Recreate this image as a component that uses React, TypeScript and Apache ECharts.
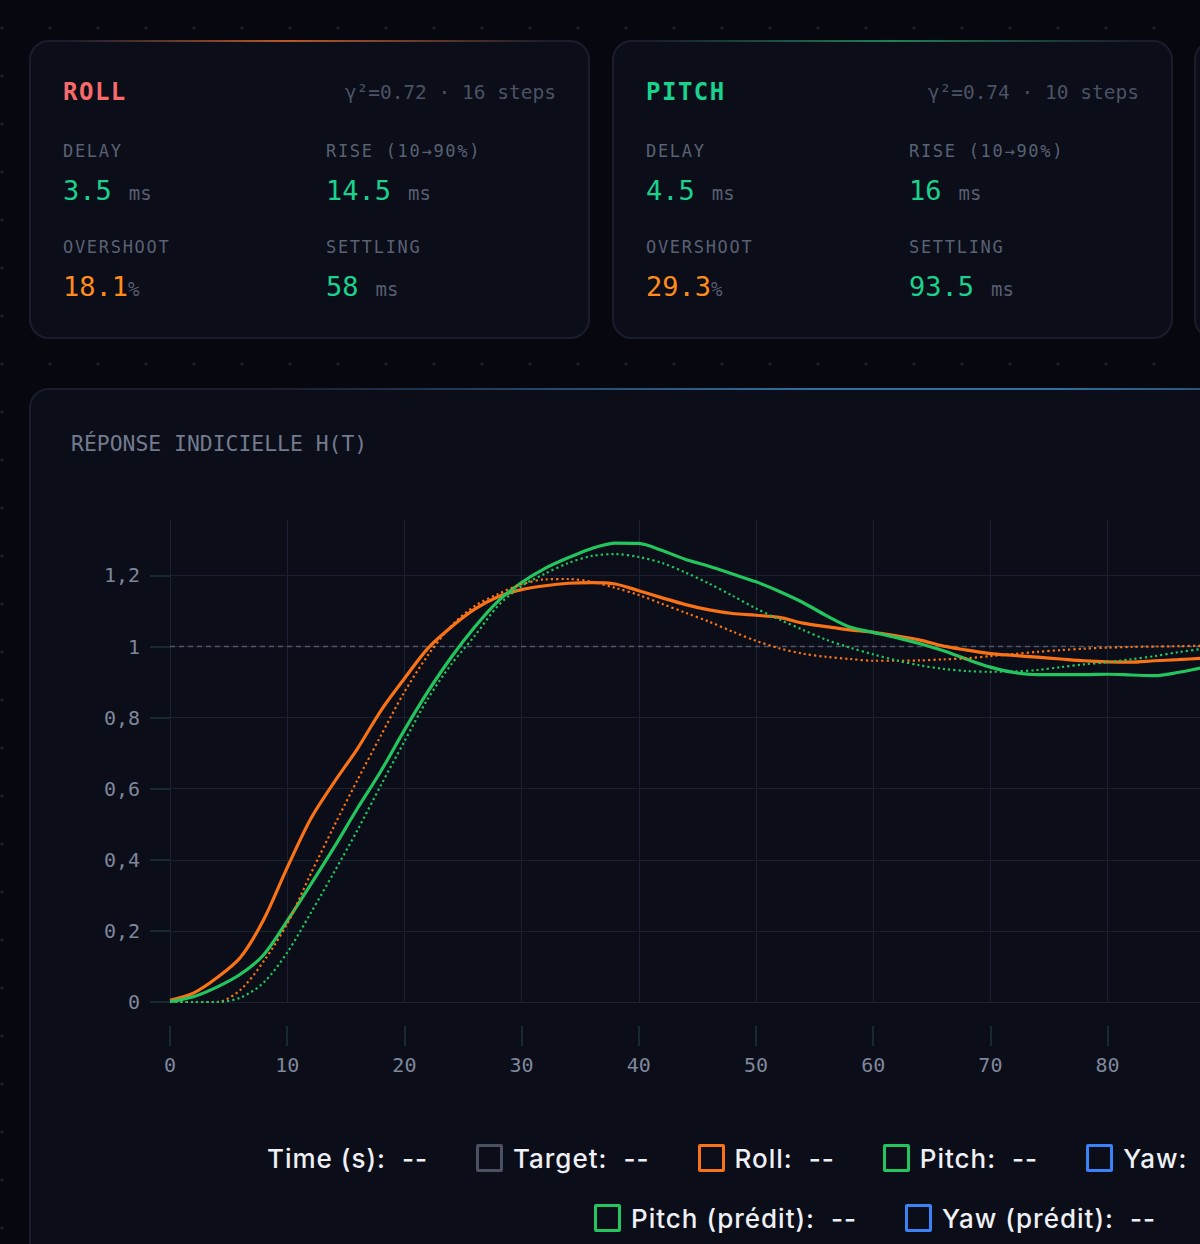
import React, { useEffect, useRef } from "react";
import * as echarts from "echarts";

// ---------- data ----------
const TIME = [
  0, 2, 4, 6, 8, 10, 12, 14, 16, 18, 20, 22, 24, 26, 28, 30, 32, 34, 36, 38, 40, 42, 44, 46, 48, 50,
  52, 54, 56, 58, 60, 62, 64, 66, 68, 70, 72, 74, 76, 78, 80, 82, 84, 86, 88, 90, 92, 94, 96, 98, 100,
];
const ROLL = [
  0.005, 0.025, 0.068, 0.125, 0.232, 0.378, 0.515, 0.618, 0.713, 0.82, 0.91, 0.995, 1.055, 1.105, 1.14,
  1.16, 1.171, 1.178, 1.18, 1.176, 1.157, 1.137, 1.118, 1.103, 1.093, 1.088, 1.082, 1.066, 1.056, 1.047,
  1.04, 1.03, 1.018, 1.001, 0.99, 0.98, 0.975, 0.97, 0.965, 0.96, 0.957, 0.956, 0.96, 0.963, 0.967,
  0.97, 0.973, 0.977, 0.98, 0.982, 0.985,
];
const PITCH = [
  0.001, 0.015, 0.042, 0.078, 0.133, 0.228, 0.33, 0.435, 0.545, 0.65, 0.765, 0.873, 0.97, 1.055, 1.128,
  1.18, 1.22, 1.25, 1.276, 1.291, 1.29, 1.27, 1.245, 1.226, 1.204, 1.182, 1.155, 1.124, 1.087, 1.055,
  1.04, 1.025, 1.008, 0.988, 0.964, 0.942, 0.927, 0.921, 0.921, 0.921, 0.922, 0.92, 0.918, 0.927, 0.94,
  0.952, 0.963, 0.972, 0.98, 0.985, 0.99,
];
const ROLL_PRED = [
  0, 0, 0, 0.034, 0.115, 0.22, 0.36, 0.495, 0.625, 0.75, 0.872, 0.975, 1.058, 1.114, 1.148, 1.175, 1.189,
  1.19, 1.182, 1.165, 1.145, 1.12, 1.095, 1.07, 1.042, 1.016, 0.995, 0.98, 0.971, 0.965, 0.96, 0.96,
  0.961, 0.964, 0.967, 0.973, 0.979, 0.985, 0.99, 0.994, 0.997, 0.999, 1.0, 1.001, 1.002, 1.002, 1.002,
  1.001, 1.001, 1.0, 1.0,
];
const PITCH_PRED = [
  0, 0, 0, 0.012, 0.055, 0.139, 0.25, 0.365, 0.484, 0.61, 0.733, 0.853, 0.95, 1.03, 1.115, 1.17, 1.205,
  1.235, 1.255, 1.26, 1.252, 1.235, 1.208, 1.177, 1.143, 1.107, 1.076, 1.047, 1.019, 0.997, 0.978, 0.961,
  0.947, 0.937, 0.931, 0.929, 0.93, 0.934, 0.942, 0.95, 0.956, 0.964, 0.973, 0.984, 0.993, 1.0, 1.004,
  1.006, 1.006, 1.005, 1.004,
];
const TARGET_TIME = [0, 100];
const TARGET = [1, 1];
const Y_TICKS = [0, 0.2, 0.4, 0.6, 0.8, 1, 1.2];
const X_MIN = 0;
const X_MAX = 100;
const X_INTERVAL = 10;
const Y_MAX = 1.356;

const CARD_NAMES = ["ROLL", "PITCH"];
const CARD_FIT = ["γ²=0.72 · 16 steps", "γ²=0.74 · 10 steps"];
const CARD_DELAY = ["3.5", "4.5"];
const CARD_RISE = ["14.5", "16"];
const CARD_OVERSHOOT = ["18.1", "29.3"];
const CARD_SETTLING = ["58", "93.5"];

const LEGEND_ROW1 = [
  { label: "Time (s):", color: null },
  { label: "Target:", color: "#4b5160" },
  { label: "Roll:", color: "#f97316" },
  { label: "Pitch:", color: "#22c55e" },
  { label: "Yaw:", color: "#3b82f6" },
  { label: "Roll (prédit):", color: "#f97316" },
];
const LEGEND_ROW2 = [
  { label: "Pitch (prédit):", color: "#22c55e" },
  { label: "Yaw (prédit):", color: "#3b82f6" },
];

// ---------- styles ----------
const MONO = "'DejaVu Sans Mono', 'Liberation Mono', monospace";
const SANS = "Inter, Roboto, 'Noto Sans', sans-serif";
const PAGE_BG = "#07080f";
const CARD_BG = "#0b0d18";
const CARD_BORDER = "#1a1d2c";
const GREEN_TXT = "#19d28e";
const ORANGE_TXT = "#ff8c1a";
const LABEL_TXT = "#596174";
const UNIT_TXT = "#575e71";
const GRID = "#1d2030";
const TICK = "#1e3337";
const AXIS_TXT = "#7f879b";

const pairs = (xs: number[], ys: number[]) => xs.map((x, i) => [x, ys[i]]);

function Metric({ left, top, label, value, unit, valueColor, unitIsPct }: any) {
  return (
    <>
      <div
        style={{
          position: "absolute",
          left,
          top: top - 12,
          height: 24,
          lineHeight: "24px",
          fontFamily: MONO,
          fontSize: 17,
          letterSpacing: 1.7,
          color: LABEL_TXT,
          whiteSpace: "nowrap",
        }}
      >
        {label}
      </div>
      <div
        style={{
          position: "absolute",
          left,
          top: top + 40 - 18,
          height: 36,
          lineHeight: "36px",
          display: "flex",
          alignItems: "baseline",
          whiteSpace: "nowrap",
        }}
      >
        <span style={{ fontFamily: MONO, fontSize: 27, color: valueColor }}>{value}</span>
        <span
          style={{
            fontFamily: MONO,
            fontSize: 19,
            color: UNIT_TXT,
            marginLeft: unitIsPct ? 0 : 17,
          }}
        >
          {unit}
        </span>
      </div>
    </>
  );
}

function Card({ left, idx, titleColor, glow, glowPos }: any) {
  return (
    <div
      style={{
        position: "absolute",
        left,
        top: 40,
        width: 561,
        height: 299,
        boxSizing: "border-box",
        border: `2px solid ${CARD_BORDER}`,
        borderRadius: 20,
        background: CARD_BG,
      }}
    >
      <div
        style={{
          position: "absolute",
          left: 40,
          right: 40,
          top: -2,
          height: 2,
          background: `linear-gradient(90deg, transparent 0%, ${glow} ${glowPos}%, transparent 100%)`,
        }}
      />
      {idx >= 0 && (
        <>
          <div
            style={{
              position: "absolute",
              left: 32,
              top: 50 - 17,
              height: 34,
              lineHeight: "34px",
              fontFamily: MONO,
              fontWeight: "bold",
              fontSize: 24,
              letterSpacing: 1.5,
              color: titleColor,
            }}
          >
            {CARD_NAMES[idx]}
          </div>
          <div
            style={{
              position: "absolute",
              right: 32,
              top: 51 - 14,
              height: 28,
              lineHeight: "28px",
              fontFamily: MONO,
              fontSize: 19.5,
              color: "#4b5264",
              whiteSpace: "nowrap",
            }}
          >
            {CARD_FIT[idx]}
          </div>
          <Metric left={32} top={109} label="DELAY" value={CARD_DELAY[idx]} unit="ms" valueColor={GREEN_TXT} />
          <Metric left={295} top={109} label="RISE (10→90%)" value={CARD_RISE[idx]} unit="ms" valueColor={GREEN_TXT} />
          <Metric
            left={32}
            top={205}
            label="OVERSHOOT"
            value={CARD_OVERSHOOT[idx]}
            unit="%"
            unitIsPct
            valueColor={ORANGE_TXT}
          />
          <Metric left={295} top={205} label="SETTLING" value={CARD_SETTLING[idx]} unit="ms" valueColor={GREEN_TXT} />
        </>
      )}
    </div>
  );
}

function LegendRow({ left, top, items }: any) {
  return (
    <div
      style={{
        position: "absolute",
        left,
        top: top - 20,
        height: 40,
        display: "flex",
        alignItems: "center",
        whiteSpace: "nowrap",
        fontFamily: SANS,
        fontWeight: 500,
        fontSize: 26,
        letterSpacing: 1.0,
        color: "#eef0f5",
      }}
    >
      {items.map((it: any, i: number) => (
        <div key={i} style={{ display: "flex", alignItems: "center", marginRight: 48 }}>
          {it.color && (
            <div
              style={{
                width: 27,
                height: 28,
                boxSizing: "border-box",
                border: `3px solid ${it.color}`,
                borderRadius: 2,
                marginRight: 10,
              }}
            />
          )}
          <span>{it.label}</span>
          <span style={{ marginLeft: 16 }}>--</span>
        </div>
      ))}
    </div>
  );
}

export default function App() {
  const ref = useRef<HTMLDivElement>(null);

  useEffect(() => {
    if (!ref.current) return;
    const chart = echarts.init(ref.current, null, { renderer: "svg" });
    const axisLabelStyle = { color: AXIS_TXT, fontFamily: MONO, fontSize: 20 };
    const option: any = {
      animation: false,
      backgroundColor: "transparent",
      title: {
        text: "RÉPONSE INDICIELLE H(T)",
        left: 42,
        top: 45,
        padding: 0,
        textStyle: { color: "#737b8f", fontFamily: MONO, fontSize: 21.4, fontWeight: "normal" },
      },
      grid: { left: 141, top: 132, width: 1172, height: 482 },
      xAxis: {
        type: "value",
        min: X_MIN,
        max: X_MAX,
        interval: X_INTERVAL,
        offset: 24,
        axisLine: { show: false, onZero: false },
        axisTick: { show: true, length: 20, lineStyle: { color: TICK, width: 1.5 } },
        axisLabel: { ...axisLabelStyle, margin: 29 },
        splitLine: { show: true, lineStyle: { color: GRID, width: 1.2 } },
      },
      yAxis: {
        type: "value",
        min: 0,
        max: Y_MAX,
        axisLine: { show: false, onZero: false },
        axisTick: { show: true, length: 20, customValues: Y_TICKS, lineStyle: { color: TICK, width: 1.5 } },
        axisLabel: {
          ...axisLabelStyle,
          margin: 30,
          customValues: Y_TICKS,
          formatter: (v: number) => String(Math.round(v * 10) / 10).replace(".", ","),
        },
        splitLine: { show: true, lineStyle: { color: GRID, width: 1.2 } },
      },
      series: [
        {
          name: "Target",
          type: "line",
          data: pairs(TARGET_TIME, TARGET),
          symbol: "none",
          silent: true,
          lineStyle: { color: "#4f5668", width: 1.5, type: [5, 4] },
          z: 1,
        },
        {
          name: "Roll",
          type: "line",
          data: pairs(TIME, ROLL),
          symbol: "none",
          smooth: 0.3,
          lineStyle: { color: "#f97316", width: 3.2 },
          z: 3,
        },
        {
          name: "Pitch",
          type: "line",
          data: pairs(TIME, PITCH),
          symbol: "none",
          smooth: 0.3,
          lineStyle: { color: "#22c55e", width: 3.2 },
          z: 4,
        },
        {
          name: "Yaw",
          type: "line",
          data: [],
          symbol: "none",
          lineStyle: { color: "#3b82f6", width: 3 },
        },
        {
          name: "Roll (prédit)",
          type: "line",
          data: pairs(TIME, ROLL_PRED),
          symbol: "none",
          smooth: 0.3,
          lineStyle: { color: "#f97316", width: 2.2, type: [2.2, 3] },
          z: 5,
        },
        {
          name: "Pitch (prédit)",
          type: "line",
          data: pairs(TIME, PITCH_PRED),
          symbol: "none",
          smooth: 0.3,
          lineStyle: { color: "#22c55e", width: 2.2, type: [2.2, 3] },
          z: 5,
        },
      ],
    };
    chart.setOption(option);
    return () => chart.dispose();
  }, []);

  return (
    <div
      style={{
        position: "fixed",
        left: 0,
        top: 0,
        width: 1200,
        height: 1244,
        overflow: "hidden",
        backgroundColor: PAGE_BG,
        backgroundImage: "radial-gradient(circle, #1b1e2b 1.3px, transparent 1.9px)",
        backgroundSize: "48px 48px",
        backgroundPosition: "-22px 4px",
      }}
    >
      <Card left={29} idx={0} titleColor="#f76a6a" glow="rgba(214,98,40,0.85)" glowPos={45} />
      <Card left={612} idx={1} titleColor={GREEN_TXT} glow="rgba(34,160,100,0.75)" glowPos={50} />
      <Card left={1194} idx={-1} titleColor={GREEN_TXT} glow="rgba(59,130,246,0.5)" glowPos={50} />

      <div
        style={{
          position: "absolute",
          left: 29,
          top: 388,
          width: 1727,
          height: 920,
          boxSizing: "border-box",
          border: `2px solid ${CARD_BORDER}`,
          borderRadius: 20,
          background: CARD_BG,
        }}
      >
        <div
          style={{
            position: "absolute",
            left: 40,
            right: 40,
            top: -2,
            height: 2,
            background:
              "linear-gradient(90deg, transparent 12%, rgba(48,110,160,0.55) 30%, rgba(52,125,180,0.85) 45%, rgba(52,125,180,0.85) 60%, transparent 88%)",
          }}
        />
        <div ref={ref} style={{ position: "absolute", left: -2, top: -2, width: 1727, height: 740 }} />
      </div>

      <LegendRow left={267} top={1158} items={LEGEND_ROW1} />
      <LegendRow left={594} top={1218} items={LEGEND_ROW2} />
    </div>
  );
}
